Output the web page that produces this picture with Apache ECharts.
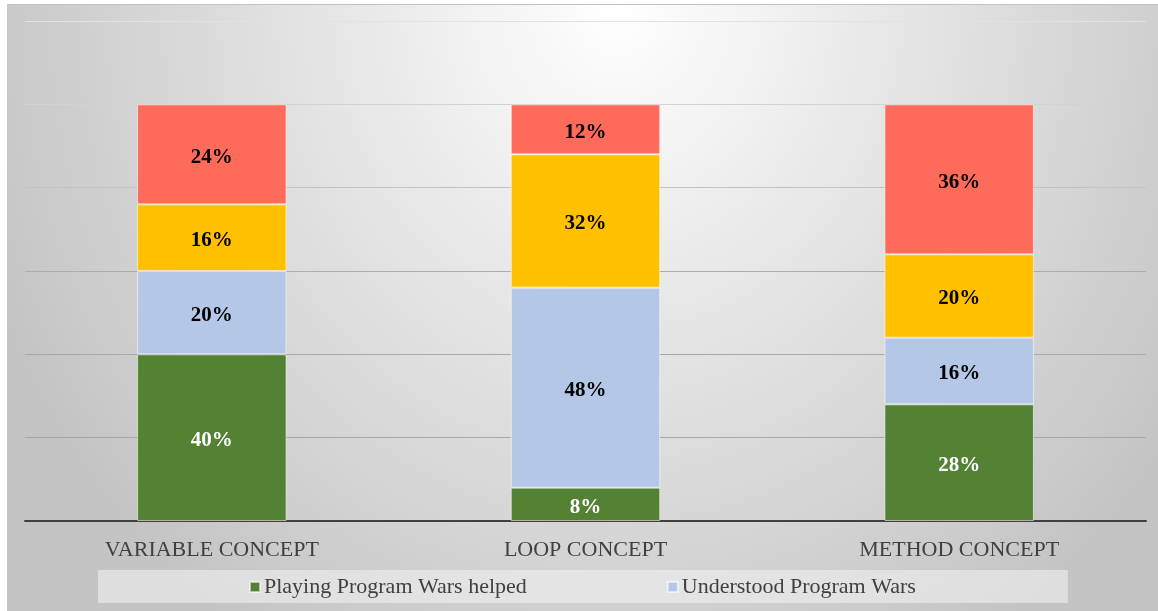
<!DOCTYPE html>
<html>
<head>
<meta charset="utf-8">
<script src="https://cdn.jsdelivr.net/npm/echarts@6/dist/echarts.min.js"></script>
<style>
  html, body { margin: 0; padding: 0; background: #fff; }
  #chart {
    position: absolute;
    left: 7px;
    top: 4px;
    width: 1151px;
    height: 606px;
    border-top: 1px solid #c2c2c2;
    background: radial-gradient(ellipse 58% 125% at 53% 0%, #ffffff 0%, #c4c4c4 100%);
  }
</style>
</head>
<body>
<div id="chart"></div>
<script>
// concepts on the x axis
const categories = ['VARIABLE CONCEPT', 'LOOP CONCEPT', 'METHOD CONCEPT'];

// percentages, bottom to top of each stack
const helped = [40, 8, 28];
const understood = [20, 48, 16];
const thirdGroup = [16, 32, 20];
const fourthGroup = [24, 12, 36];

const seriesNames = ['Playing Program Wars helped', 'Understood Program Wars', 'Series 3', 'Series 4'];
const seriesColors = ['#548235', '#b4c7e7', '#ffc000', '#ff6b5b'];
const labelColors = ['#ffffff', '#000000', '#000000', '#000000'];

const yTicks = [0, 20, 40, 60, 80, 100, 120];

const serif = '"Liberation Serif", "DejaVu Serif", serif';

function makeSeries(name, values, idx) {
  return {
    name: name,
    type: 'bar',
    stack: 'total',
    barWidth: '40%',
    data: values,
    itemStyle: {
      color: seriesColors[idx],
      borderColor: 'rgba(255,255,255,0.55)',
      borderWidth: 1
    },
    label: {
      show: true,
      position: 'inside',
      offset: [0, 3],
      formatter: '{c}%',
      color: labelColors[idx],
      fontFamily: serif,
      fontWeight: 'bold',
      fontSize: 21
    }
  };
}

const chart = echarts.init(document.getElementById('chart'));
chart.setOption({
  backgroundColor: 'transparent',
  animation: false,
  grid: { left: 18, right: 12, top: 16, bottom: 90 },
  legend: {
    data: seriesNames.slice(0, 2),
    left: 91,
    top: 565,
    padding: [6, 152, 5, 151],
    backgroundColor: 'rgba(240,240,240,0.6)',
    itemWidth: 10,
    itemHeight: 10,
    itemGap: 140,
    icon: 'rect',
    textStyle: { fontFamily: serif, fontSize: 22, color: '#404040', padding: [2, 0, 0, -1] }
  },
  xAxis: {
    type: 'category',
    data: categories,
    axisTick: { show: false },
    axisLine: { lineStyle: { color: '#404040', width: 2 } },
    axisLabel: { fontFamily: serif, fontSize: 22, color: '#404040', margin: 18 }
  },
  yAxis: {
    type: 'value',
    min: yTicks[0],
    max: yTicks[yTicks.length - 1],
    interval: 20,
    axisLabel: { show: false },
    axisLine: { show: false },
    axisTick: { show: false },
    splitLine: {
      lineStyle: {
        color: ['#a6a6a6', '#a6a6a6', '#a8a8a8', '#acacac', '#c2c2c2', '#d2d2d2', '#e2e2e2'],
        width: 1
      }
    }
  },
  series: [
    makeSeries(seriesNames[0], helped, 0),
    makeSeries(seriesNames[1], understood, 1),
    makeSeries(seriesNames[2], thirdGroup, 2),
    makeSeries(seriesNames[3], fourthGroup, 3)
  ]
});
</script>
</body>
</html>
